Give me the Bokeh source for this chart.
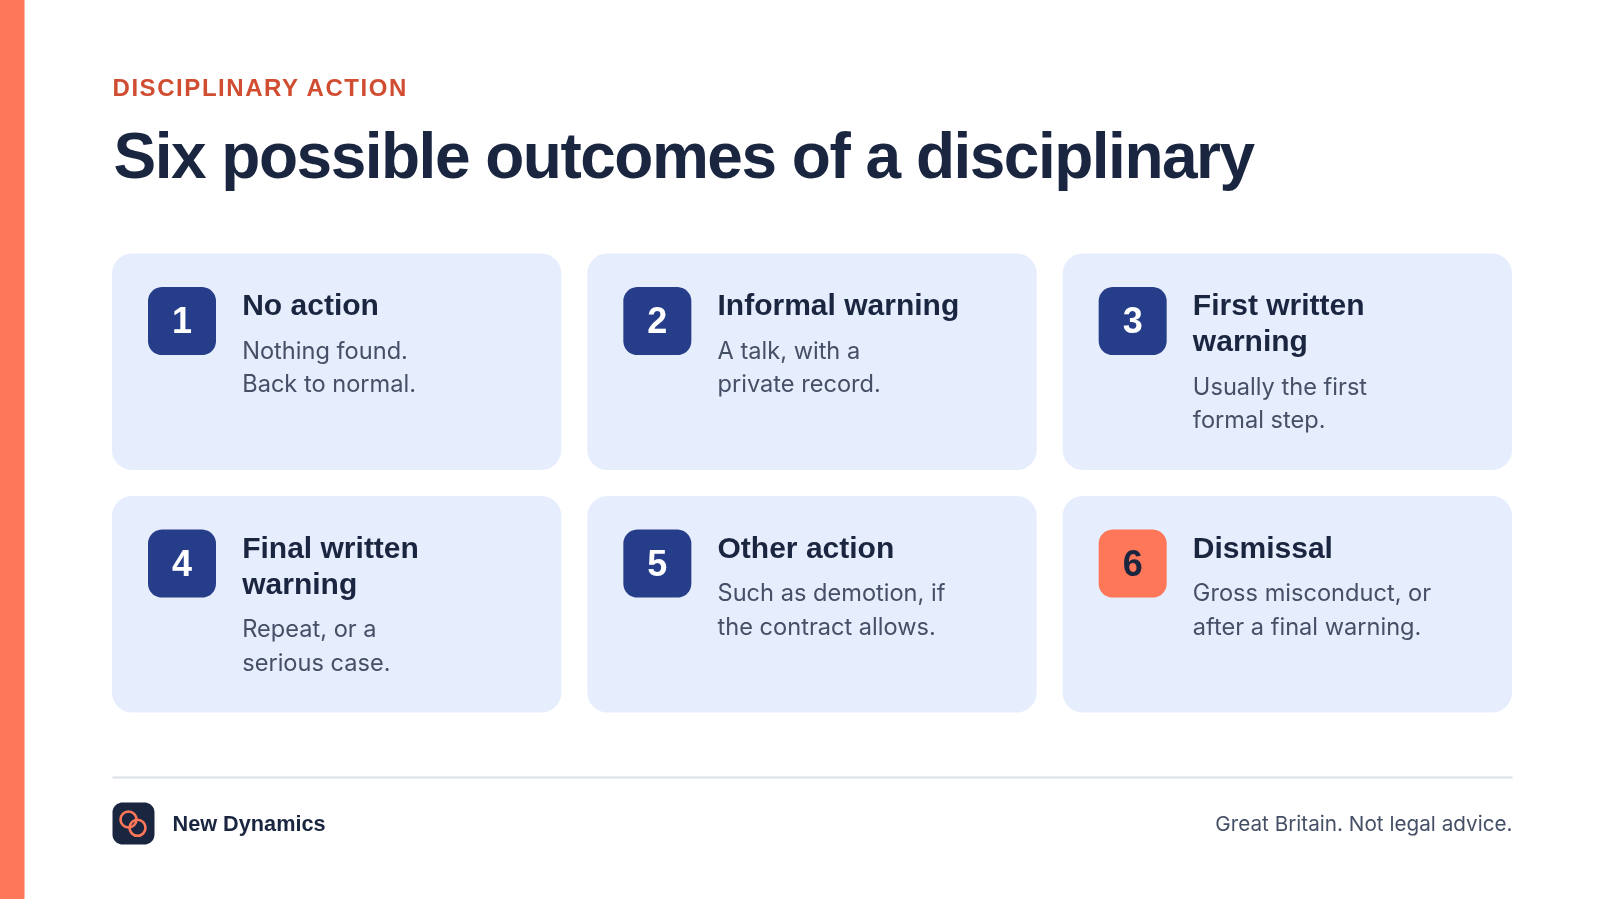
from bokeh.core.properties import value
from bokeh.embed import file_html
from bokeh.layouts import column
from bokeh.models import ColumnDataSource
from bokeh.plotting import figure
from bokeh.resources import INLINE
import numpy as np

eyebrow = "DISCIPLINARY ACTION"
headline = "Six possible outcomes of a disciplinary"
numbers = ["1", "2", "3", "4", "5", "6"]
titles = [["No action"], ["Informal warning"], ["First written", "warning"],
          ["Final written", "warning"], ["Other action"], ["Dismissal"]]
notes = [["Nothing found.", "Back to normal."], ["A talk, with a", "private record."],
         ["Usually the first", "formal step."], ["Repeat, or a", "serious case."],
         ["Such as demotion, if", "the contract allows."], ["Gross misconduct, or", "after a final warning."]]
brand = "New Dynamics"
disclaimer = "Great Britain. Not legal advice."

HEAD_FONT = "Liberation Sans"
BODY_FONT = "Inter"
NAVY = "#1a2540"
CORAL = "#ff7759"
BLUE = "#263d8a"
PALE = "#e6edfd"
GREY = "#454f66"


def rounded(x0, y0, x1, y1, r):
    # corner arcs, y axis points down
    t = np.linspace(0, np.pi / 2, 12)
    xs = np.concatenate([x1 - r + r * np.sin(t), x1 - r + r * np.cos(t), x0 + r - r * np.sin(t), x0 + r - r * np.cos(t)])
    ys = np.concatenate([y0 + r - r * np.cos(t), y1 - r + r * np.sin(t), y1 - r + r * np.cos(t), y0 + r - r * np.sin(t)])
    return xs.tolist(), ys.tolist()


def sheet(spacing="normal"):
    # full-window layer, letter-spacing is inherited by its svg text
    f = figure(width=1600, height=900, x_range=(-1, 1599), y_range=(899, -1), output_backend="svg",
               toolbar_location=None, min_border=0, outline_line_color=None,
               background_fill_alpha=0, border_fill_alpha=0,
               styles={"position": "fixed", "left": "-1px", "top": "-1px", "letter-spacing": spacing})
    f.axis.visible = False
    f.grid.visible = False
    return f


def label(f, x, y, text, size, color, font=BODY_FONT, style="normal", align="left"):
    f.text(x=[x], y=[y], text=[text], text_font=value(font), text_font_size=f"{size}px", text_color=color,
           text_font_style=style, text_align=align, text_baseline="middle")


p = sheet()
p.quad(left=-5, right=24, top=-5, bottom=905, color=CORAL, line_color=None)

top_a = sheet("1.56px")
label(top_a, 112, 87, eyebrow, 24, "#d14d32", font=HEAD_FONT, style="bold")
top_b = sheet("-1.5px")
label(top_b, 113, 155, headline, 64, NAVY, font=HEAD_FONT, style="bold")

card_w = (1400 - 2 * 26) / 3
card_h = 216.5
for i, num in enumerate(numbers):
    col, row = i % 3, i // 3
    x0 = 112 + col * (card_w + 26)
    y0 = 253 + row * (card_h + 26)
    xs, ys = rounded(x0 - 0.5, y0, x0 + card_w - 0.5, y0 + card_h, 20)
    p.patch(xs, ys, fill_color=PALE, line_color=None)
    bx, by = x0 + 35.5, y0 + 33.6
    xs, ys = rounded(bx, by, bx + 68, by + 68, 14)
    last = i == 5
    p.patch(xs, ys, fill_color=CORAL if last else BLUE, line_color=None)
    label(p, bx + 34, by + 33.3, num, 36, NAVY if last else "white", font=HEAD_FONT, style="bold", align="center")
    tx = x0 + 129.7
    ty = y0 + 51
    for line in titles[i]:
        label(p, tx, ty, line, 30, NAVY, font=HEAD_FONT, style="bold")
        ty += 36
    ty += 9.5
    for line in notes[i]:
        label(p, tx, ty, line, 23.6, GREY)
        ty += 33.5

p.line([112, 1512], [777, 777], line_color="#dcdfec", line_width=2)
xs, ys = rounded(112, 802, 154, 844, 10)
p.patch(xs, ys, fill_color=NAVY, line_color=None)
rings = ColumnDataSource(dict(x=[128, 137], y=[819, 827.3], r=[8, 8]))
p.circle(x="x", y="y", radius="r", source=rings, fill_color=None, line_color=CORAL, line_width=2.6)
label(p, 172, 823, brand, 21.7, NAVY, font=HEAD_FONT, style="bold")
label(p, 1512, 822.5, disclaimer, 20.7, GREY, align="right")

page = column(p, top_a, top_b)
open("out.html", "w").write(file_html(page, INLINE))
